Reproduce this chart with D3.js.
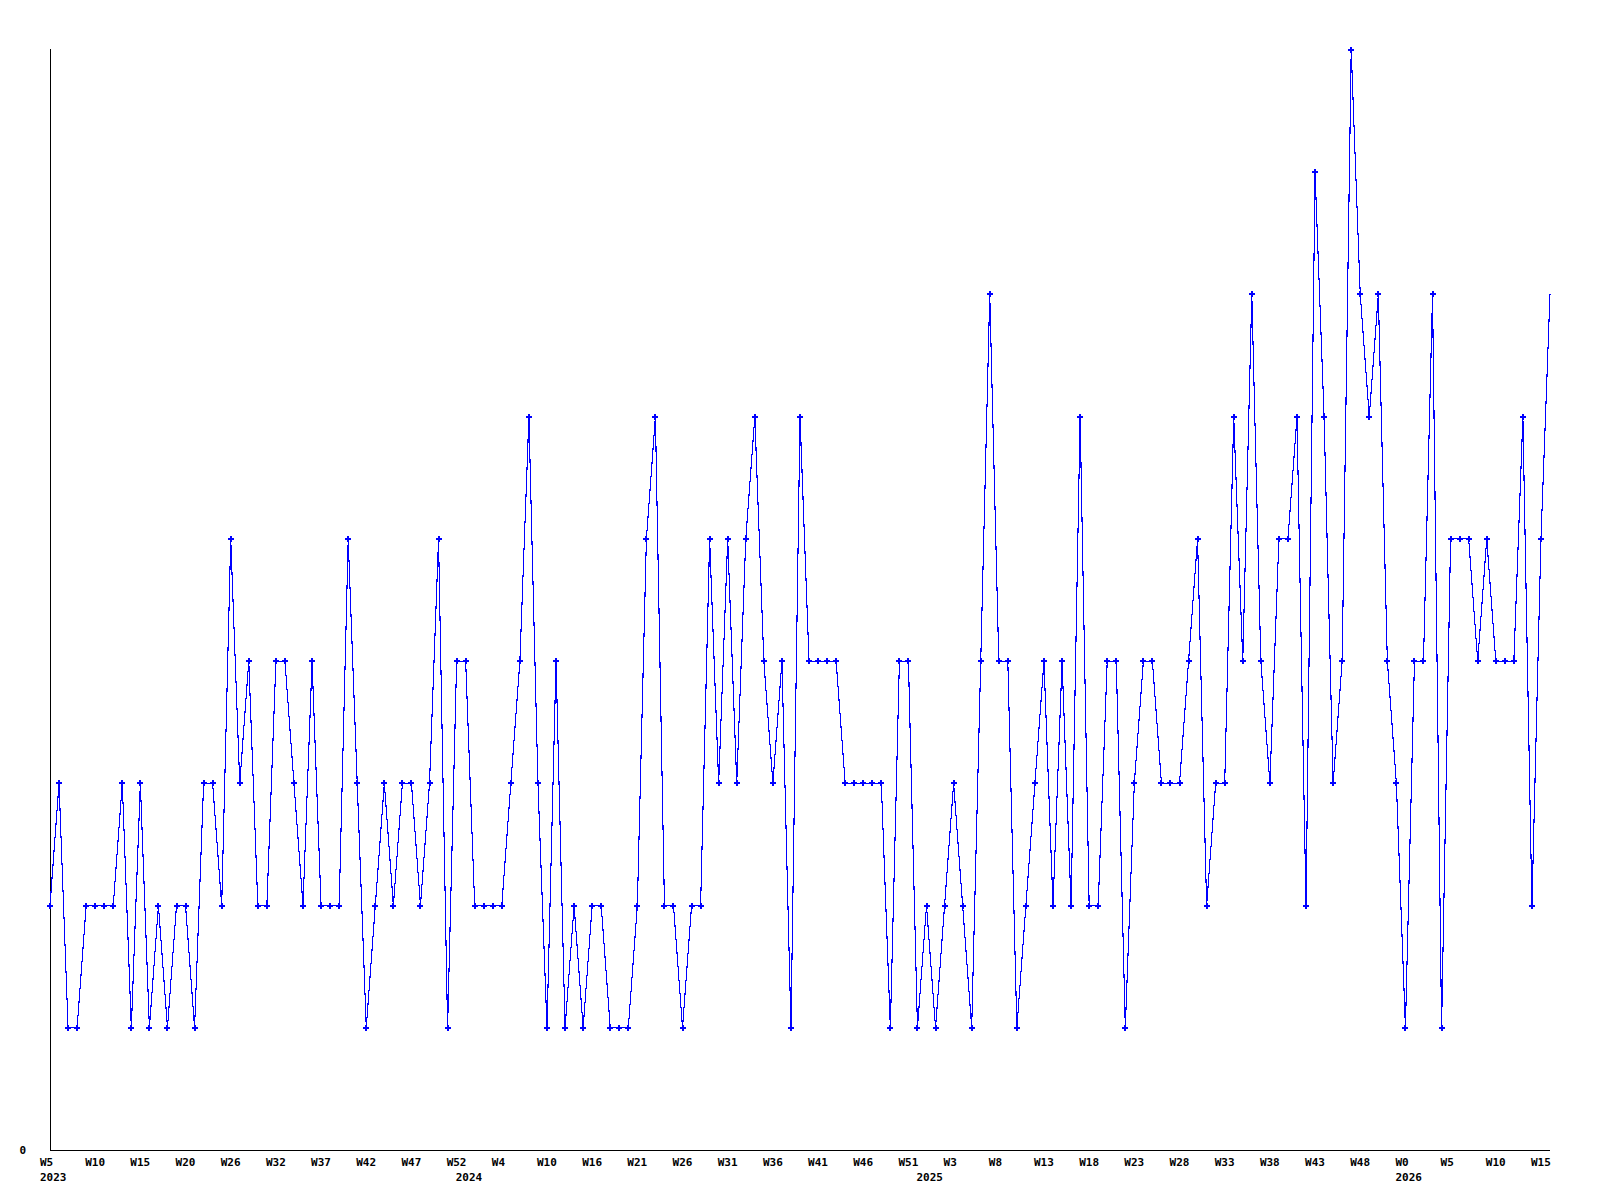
<!DOCTYPE html>
<html>
<head>
<meta charset="utf-8">
<script src="https://cdn.jsdelivr.net/npm/d3@7"></script>
<style>
  html, body { margin: 0; padding: 0; background: #ffffff; }
  svg { display: block; }
  text { font-family: "DejaVu Sans Mono", monospace; font-weight: bold; font-size: 11px; fill: #000; }
</style>
</head>
<body>
<svg id="chart" width="1600" height="1200"></svg>
<script>
// Weekly counts, 2023 W5 onward (one value per week)
const values = [
  2,3,1,1,2,2,2,2,3,1,
  3,1,2,1,2,2,1,3,3,2,
  5,3,4,2,2,4,4,3,2,4,
  2,2,2,5,3,1,2,3,2,3,
  3,2,3,5,1,4,4,2,2,2,
  2,3,4,6,3,1,4,1,2,1,
  2,2,1,1,1,2,5,6,2,2,
  1,2,2,5,3,5,3,5,6,4,
  3,4,1,6,4,4,4,4,3,3,
  3,3,3,1,4,4,1,2,1,2,
  3,2,1,4,7,4,4,1,2,3,
  4,2,4,2,6,2,2,4,4,1,
  3,4,4,3,3,3,4,5,2,3,
  3,6,4,7,4,3,5,5,6,2,
  8,6,3,4,9,7,6,7,4,3,
  1,4,4,7,1,5,5,5,4,5,
  4,4,4,6,2,5,7
];

// Tick labels, one every 5 points
const tickLabels = [
  "W5","W10","W15","W20","W26","W32","W37","W42","W47","W52",
  "W4","W10","W16","W21","W26","W31","W36","W41","W46","W51",
  "W3","W8","W13","W18","W23","W28","W33","W38","W43","W48",
  "W0","W5","W10","W15"
];
const tickStep = 5;

// Year labels and the point index where they sit
const yearLabels = ["2023","2024","2025","2026"];
const yearIndex = [0, 46, 97, 150];

const yMax = 9;

(function () {
  const svg = d3.select("#chart");
  const mLeft = 50, mRight = 1550, mTop = 50, mBottom = 1150;

  const x = d3.scaleLinear().domain([0, values.length - 1]).range([mLeft, mRight]);
  const y = d3.scaleLinear().domain([0, yMax]).range([mBottom, mTop]);

  // axis lines
  svg.append("line")
    .attr("x1", mLeft + 0.5).attr("x2", mLeft + 0.5)
    .attr("y1", mTop - 1).attr("y2", mBottom)
    .attr("stroke", "#000").attr("stroke-width", 1)
    .attr("shape-rendering", "crispEdges");
  svg.append("line")
    .attr("x1", mLeft).attr("x2", mRight)
    .attr("y1", mBottom + 0.5).attr("y2", mBottom + 0.5)
    .attr("stroke", "#000").attr("stroke-width", 1)
    .attr("shape-rendering", "crispEdges");

  // y label 0
  svg.append("text")
    .attr("x", mLeft - 24)
    .attr("y", y(0) + 4)
    .attr("text-anchor", "end")
    .text("0");

  // x tick labels
  svg.append("g").selectAll("text")
    .data(tickLabels)
    .join("text")
    .attr("x", (d, i) => x(i * tickStep) - 10)
    .attr("y", mBottom + 16)
    .attr("text-anchor", "start")
    .text(d => d);

  // year labels
  svg.append("g").selectAll("text")
    .data(yearLabels)
    .join("text")
    .attr("x", (d, i) => x(yearIndex[i]) - 10)
    .attr("y", mBottom + 31)
    .attr("text-anchor", "start")
    .text(d => d);

  // line
  const line = d3.line()
    .x((d, i) => x(i))
    .y(d => y(d));

  svg.append("path")
    .datum(values)
    .attr("d", line)
    .attr("fill", "none")
    .attr("stroke", "#0000ff")
    .attr("stroke-width", 1.1)
    .attr("shape-rendering", "crispEdges");

  // markers (last point has none)
  const cross = d3.symbol().type(d3.symbolCross).size(20);
  svg.append("g").selectAll("path")
    .data(values.slice(0, values.length - 1))
    .join("path")
    .attr("transform", (d, i) => `translate(${x(i)},${y(d)})`)
    .attr("d", cross)
    .attr("fill", "#0000ff")
    .attr("shape-rendering", "crispEdges");
})();
</script>
</body>
</html>
